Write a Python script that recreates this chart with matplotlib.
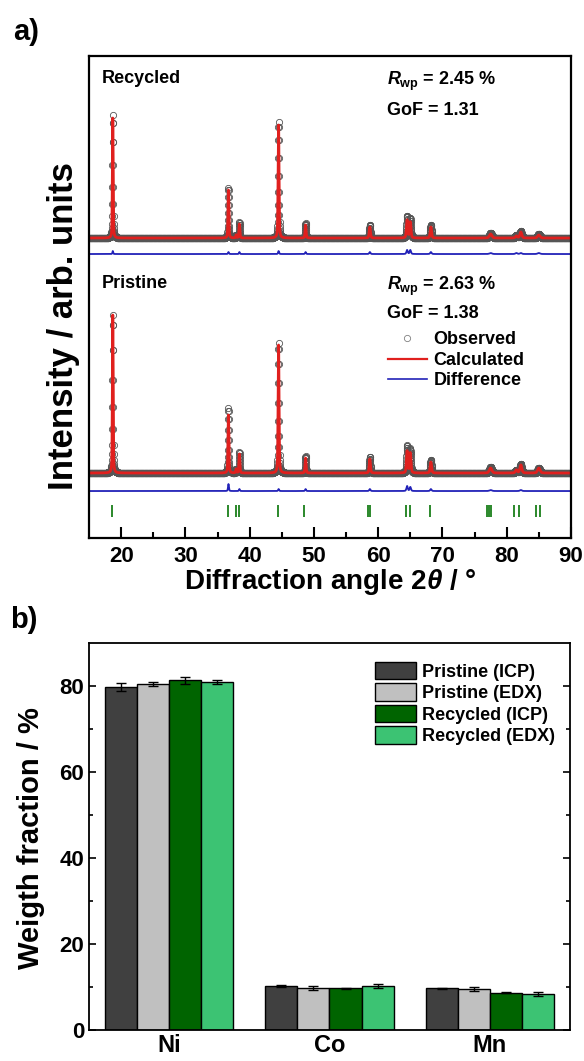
import numpy as np
import matplotlib
matplotlib.use("Agg")
import matplotlib.pyplot as plt
from matplotlib.lines import Line2D
from matplotlib.patches import Patch

plt.rcParams["font.family"] = ["Liberation Sans", "DejaVu Sans"]
plt.rcParams["font.weight"] = "bold"
plt.rcParams["mathtext.fontset"] = "custom"
plt.rcParams["mathtext.rm"] = "Liberation Sans:bold"
plt.rcParams["mathtext.it"] = "Liberation Sans:italic:bold"
plt.rcParams["mathtext.sf"] = "Liberation Sans:italic"
plt.rcParams["mathtext.bf"] = "Liberation Sans:bold"

# --- a) XRD refinement, peaks (arb. units) ---
peak_pos = [18.7, 36.7, 37.9, 38.4, 44.5, 48.7, 58.7, 64.5, 65.0, 68.2, 77.5, 81.5, 82.2, 85.0]
peak_fwhm = [0.14, 0.16, 0.16, 0.16, 0.17, 0.18, 0.22, 0.24, 0.24, 0.25, 0.45, 0.35, 0.35, 0.45]
recycled_calc = [120, 48, 3, 14, 113, 13, 11, 18, 16, 11, 4, 2, 6, 3]
recycled_obs = [123, 50, 3, 16, 116, 15, 13, 22, 20, 13, 5, 3, 7, 4]
pristine_calc = [158, 58, 4, 19, 128, 15, 14, 22, 20, 11, 5, 3, 8, 5]
pristine_obs = [158, 65, 4, 21, 130, 17, 16, 27, 24, 13, 6, 3, 9, 5]
bragg_pos = [18.6, 36.6, 37.9, 38.3, 44.4, 48.5, 58.4, 58.7, 64.4, 64.9, 68.1,
             77.0, 77.3, 77.6, 81.1, 81.9, 84.6, 85.2]

# --- b) composition ---
elements = ["Ni", "Co", "Mn"]
series = ["Pristine (ICP)", "Pristine (EDX)", "Recycled (ICP)", "Recycled (EDX)"]
wt_values = [
    [79.8, 10.2, 9.7],
    [80.4, 9.85, 9.55],
    [81.3, 9.7, 8.7],
    [80.85, 10.3, 8.45],
]
wt_errors = [
    [0.9, 0.2, 0.1],
    [0.45, 0.5, 0.5],
    [0.85, 0.15, 0.1],
    [0.45, 0.5, 0.5],
]
bar_colors = ["#404040", "#c0c0c0", "#006400", "#3cc373"]


def profile(tt, heights):
    # pseudo-Voigt peaks built from the read peak list
    y = np.zeros_like(tt)
    for p, w, h in zip(peak_pos, peak_fwhm, heights):
        g = np.exp(-4 * np.log(2) * ((tt - p) / w) ** 2)
        l = 1 / (1 + 4 * ((tt - p) / w) ** 2)
        y += h * (0.6 * g + 0.4 * l)
    return y


tt = np.arange(15.0, 90.0001, 0.02)

fig = plt.figure(figsize=(5.84, 10.61), dpi=100)
ax = fig.add_axes([0.1524, 0.4929, 0.8253, 0.4543])

patterns = [
    (recycled_obs, recycled_calc, 300, 284),
    (pristine_obs, pristine_calc, 65, 47),
]
for obs_h, calc_h, base, diff_base in patterns:
    obs = profile(tt, obs_h)
    calc = profile(tt, calc_h)
    ax.plot(tt, base + obs, "o", ms=4.5, mfc="none", mec="#555555", mew=0.6, zorder=1)
    ax.plot(tt, base + calc, "-", color="#e0201e", lw=2.0, zorder=2)
    ax.plot(tt, diff_base + obs - calc, "-", color="#2222b8", lw=1.3, zorder=2)

ax.vlines(bragg_pos, 21, 33, color="#1a7f1a", lw=1.3)

ax.set_xlim(15, 90)
ax.set_ylim(0, 482)
ax.set_yticks([])
ax.set_xticks(np.arange(20, 91, 10))
ax.set_xticks(np.arange(25, 90, 10), minor=True)
ax.tick_params(axis="x", which="major", direction="in", length=8, width=1.5,
               labelsize=16, pad=6)
ax.tick_params(axis="x", which="minor", direction="in", length=4, width=1.5)
for s in ax.spines.values():
    s.set_linewidth(1.6)
for lab in ax.get_xticklabels():
    lab.set_fontweight("bold")
ax.set_xlabel("Diffraction angle 2$\\mathsf{\\theta}$ / °", fontsize=20,
              fontweight="bold", labelpad=0)
ax.set_ylabel("Intensity / arb. units", fontsize=25, fontweight="bold")
ax.yaxis.set_label_coords(-0.018, 0.44)

txt = dict(transform=ax.transAxes, fontsize=13, fontweight="bold", va="top")
ax.text(0.027, 0.971, "Recycled", **txt)
ax.text(0.618, 0.971, "$\\mathit{R}_{\\mathrm{wp}}$ = 2.45 %", **txt)
ax.text(0.618, 0.905, "GoF = 1.31", **txt)
ax.text(0.027, 0.546, "Pristine", **txt)
ax.text(0.618, 0.546, "$\\mathit{R}_{\\mathrm{wp}}$ = 2.63 %", **txt)
ax.text(0.618, 0.483, "GoF = 1.38", **txt)

handles = [
    Line2D([], [], ls="none", marker="o", ms=4.5, mfc="none", mec="#808080", mew=0.6),
    Line2D([], [], color="#e0201e", lw=1.6),
    Line2D([], [], color="#2222b8", lw=1.2),
]
leg = ax.legend(handles, ["Observed", "Calculated", "Difference"], loc="upper left",
                bbox_to_anchor=(0.605, 0.444), frameon=False,
                prop=dict(size=13, weight="bold"), handlelength=2.17,
                handletextpad=0.37, labelspacing=0.2, borderaxespad=0)

fig.text(0.022, 1 - 18 / 1061, "a)", fontsize=21, fontweight="bold", va="top")

# --- b) bars ---
bx = fig.add_axes([0.1524, 0.0292, 0.8236, 0.3648])
x = np.arange(len(elements))
for i, (vals, errs, c, name) in enumerate(zip(wt_values, wt_errors, bar_colors, series)):
    bx.bar(x + (i - 1.5) * 0.2, vals, 0.2, color=c, edgecolor="black", linewidth=1,
           yerr=errs, capsize=3.5, label=name,
           error_kw=dict(elinewidth=1, capthick=1, ecolor="black"))

bx.set_xlim(-0.5, 2.5)
bx.set_ylim(0, 90)
bx.set_xticks(x)
bx.set_xticklabels(elements, fontsize=17, fontweight="bold")
bx.set_yticks(np.arange(0, 81, 20))
bx.set_yticks(np.arange(10, 90, 20), minor=True)
bx.tick_params(axis="x", length=0, pad=3)
bx.tick_params(axis="y", which="major", direction="in", length=5, width=1.2,
               right=True, labelsize=16)
bx.tick_params(axis="y", which="minor", direction="in", length=3, width=1.2, right=True)
for lab in bx.get_yticklabels():
    lab.set_fontweight("bold")
for s in bx.spines.values():
    s.set_linewidth(1.3)
bx.set_ylabel("Weigth fraction / %", fontsize=21, fontweight="bold")
bx.yaxis.set_label_coords(-0.0915, 0.497)

bh = [Patch(facecolor=c, edgecolor="black", linewidth=1) for c in bar_colors]
bx.legend(bh, series, loc="upper left", bbox_to_anchor=(0.58, 0.97), frameon=False,
          prop=dict(size=13, weight="bold"), handlelength=2.28, handleheight=1.1,
          handletextpad=0.32, labelspacing=0.15, borderaxespad=0)

fig.text(0.017, 1 - 606 / 1061, "b)", fontsize=21, fontweight="bold", va="top")

fig.savefig("out.png", dpi=100)
